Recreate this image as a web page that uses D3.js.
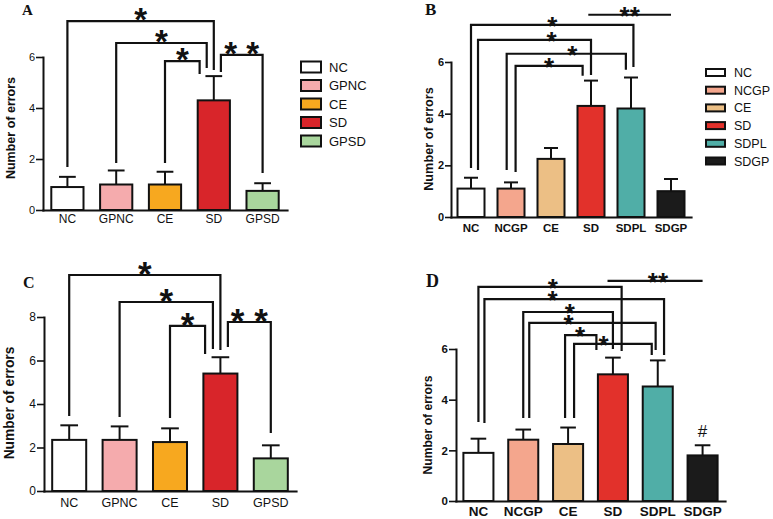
<!DOCTYPE html>
<html>
<head>
<meta charset="utf-8">
<script src="https://cdn.jsdelivr.net/npm/d3@7"></script>
<style>
  body { margin: 0; background: #fff; }
  svg { display: block; }
</style>
</head>
<body>
<svg id="chart" width="773" height="519"></svg>
<script>
// groups and colours
const groupsAC = ['NC', 'GPNC', 'CE', 'SD', 'GPSD']
const colorsAC = ['#ffffff', '#f5abad', '#f7a81f', '#d8252a', '#a9d69d']
const groupsBD = ['NC', 'NCGP', 'CE', 'SD', 'SDPL', 'SDGP']
const colorsBD = ['#ffffff', '#f4a68d', '#ecbf85', '#e2312b', '#50aea7', '#1b1b1b']

// mean and SEM
const meanA = [0.9, 1.0, 1.0, 4.3, 0.75]
const semA = [0.4, 0.55, 0.5, 0.95, 0.3]
const meanB = [1.1, 1.1, 2.25, 4.3, 4.2, 1.0]
const semB = [0.42, 0.24, 0.42, 0.98, 1.2, 0.47]
const meanC = [2.35, 2.35, 2.25, 5.4, 1.5]
const semC = [0.67, 0.62, 0.63, 0.75, 0.6]
const meanD = [1.9, 2.42, 2.25, 5.0, 4.52, 1.8]
const semD = [0.56, 0.4, 0.65, 0.66, 1.03, 0.4]

const ticksABD = [0, 2, 4, 6]
const ticksC = [0, 2, 4, 6, 8]

// significance brackets: groups, end values and bracket level in data units
const sigA = [
  { a: 'NC', aEnd: 1.69, b: 'SD', bEnd: 5.49, level: 7.41, text: '*' },
  { a: 'GPNC', aEnd: 1.84, b: 'SD', bOff: -0.22, bEnd: 5.57, level: 6.55, text: '*' },
  { a: 'CE', aEnd: 1.84, b: 'SD', bOff: -0.44, bEnd: 5.33, level: 5.84, text: '*' },
  { a: 'SD', aOff: 0.22, aEnd: 5.41, b: 'GPSD', bEnd: 1.45, level: 6.08, text: '* *' }
]
const sigB = [
  { a: 'NC', aEnd: 1.9, b: 'SDPL', bOff: 0.09, bEnd: 5.81, level: 7.44, text: '*' },
  { a: 'NC', aOff: 0.26, aEnd: 1.82, b: 'SD', bEnd: 5.5, level: 6.86, text: '*', t: 0.65 },
  { a: 'NCGP', aOff: -0.16, aEnd: 1.82, b: 'SDPL', bOff: -0.19, bEnd: 5.7, level: 6.32, text: '*', t: 0.55 },
  { a: 'NCGP', aOff: 0.17, aEnd: 1.74, b: 'SD', bOff: -0.31, bEnd: 5.47, level: 5.85, text: '*' },
  { a: 'SD', aOff: -0.1, b: 'SDGP', level: 7.83, text: '**' }
]
const sigC = [
  { a: 'NC', aEnd: 3.45, b: 'SD', bEnd: 6.48, level: 9.93, text: '*' },
  { a: 'GPNC', aEnd: 3.4, b: 'SD', bOff: -0.22, bEnd: 6.53, level: 8.69, text: '*' },
  { a: 'CE', aEnd: 3.36, b: 'SD', bOff: -0.45, bEnd: 6.3, level: 7.59, text: '*' },
  { a: 'SD', aOff: 0.22, aEnd: 6.62, b: 'GPSD', bEnd: 2.67, level: 7.77, text: '* *' }
]
const sigD = [
  { a: 'NC', aEnd: 3.12, b: 'SD', bOff: 0.29, bEnd: 5.92, level: 8.45, text: '*', t: 0.52 },
  { a: 'NC', aOff: 0.2, aEnd: 3.08, b: 'SDPL', bOff: 0.21, bEnd: 5.76, level: 7.97, text: '*', t: 0.38 },
  { a: 'NCGP', aEnd: 3.28, b: 'SD', bEnd: 6.0, level: 7.46, text: '*', t: 0.52 },
  { a: 'NCGP', aOff: 0.2, aEnd: 3.28, b: 'SDPL', bOff: -0.07, bEnd: 5.96, level: 7.03, text: '*', t: 0.31 },
  { a: 'CE', aOff: -0.1, aEnd: 3.28, b: 'SD', bOff: -0.55, bEnd: 5.96, level: 6.55, text: '*', t: 0.48 },
  { a: 'CE', aOff: 0.2, aEnd: 3.28, b: 'SDPL', bOff: -0.2, bEnd: 5.76, level: 6.2, text: '*', t: 0.38 },
  { a: 'SD', aOff: -0.18, b: 'SDGP', level: 8.69, text: '**', t: 0.53 }
]
const notesD = [{ group: 'SDGP', text: '#' }]

const FONT = '"Liberation Sans", Arial, sans-serif'
const SERIF = '"Liberation Serif", "Times New Roman", serif'
const svg = d3.select('#chart')

function drawPanel(cfg) {
  const g = svg.append('g')
  const x = d3.scaleBand()
    .domain(cfg.groups)
    .range(cfg.xRange)
    .paddingInner(cfg.pad)
    .paddingOuter(cfg.pad / 2)
  const y = d3.scaleLinear()
    .domain([0, cfg.yMax])
    .range(cfg.yRange)
  const bw = x.bandwidth()
  const cx = (d, off) => x(d) + bw / 2 + (off || 0) * bw
  const weight = cfg.bold ? 'bold' : 'normal'

  // error bars (drawn first, bar covers the lower part)
  const err = g.selectAll('g.err')
    .data(cfg.groups)
    .join('g')
  err.append('line')
    .attr('x1', d => cx(d)).attr('x2', d => cx(d))
    .attr('y1', (d, i) => y(cfg.means[i]))
    .attr('y2', (d, i) => y(cfg.means[i] + cfg.sems[i]))
    .attr('stroke', '#111').attr('stroke-width', 2)
  err.append('line')
    .attr('x1', d => cx(d) - bw * 0.26).attr('x2', d => cx(d) + bw * 0.26)
    .attr('y1', (d, i) => y(cfg.means[i] + cfg.sems[i]))
    .attr('y2', (d, i) => y(cfg.means[i] + cfg.sems[i]))
    .attr('stroke', '#111').attr('stroke-width', 2)

  g.selectAll('rect.bar')
    .data(cfg.groups)
    .join('rect')
    .attr('class', 'bar')
    .attr('x', d => x(d))
    .attr('y', (d, i) => y(cfg.means[i]))
    .attr('width', bw)
    .attr('height', (d, i) => y(0) - y(cfg.means[i]))
    .attr('fill', (d, i) => cfg.colors[i])
    .attr('stroke', '#111')
    .attr('stroke-width', 2)

  // y axis
  const yAxis = g.append('g')
    .attr('transform', `translate(${cfg.xRange[0]},0)`)
    .attr('font-family', FONT)
    .call(d3.axisLeft(y)
      .tickValues(cfg.ticks)
      .tickFormat(d3.format('d'))
      .tickSize(cfg.tickLen)
      .tickSizeOuter(0)
      .tickPadding(1))
  yAxis.select('.domain').attr('stroke', '#111').attr('stroke-width', 2).attr('stroke-linecap', 'square')
  yAxis.selectAll('.tick line').attr('stroke', '#111').attr('stroke-width', 1.6)
  yAxis.selectAll('.tick text')
    .attr('font-size', cfg.tickFs)
    .attr('font-weight', weight)
    .attr('fill', '#111')

  // x axis
  const xAxis = g.append('g')
    .attr('transform', `translate(0,${y(0)})`)
    .attr('font-family', FONT)
    .call(d3.axisBottom(x).tickSize(0).tickSizeOuter(0).tickPadding(cfg.xPad))
  xAxis.select('.domain').attr('stroke', '#111').attr('stroke-width', 2.2).attr('stroke-linecap', 'square')
  xAxis.selectAll('.tick text')
    .attr('font-size', cfg.xFs)
    .attr('font-weight', weight)
    .attr('fill', '#111')

  // y label
  g.append('text')
    .attr('transform', `translate(${cfg.yLabel.x},${cfg.yLabel.y}) rotate(-90)`)
    .attr('text-anchor', 'middle')
    .attr('font-family', FONT)
    .attr('font-weight', 'bold')
    .attr('font-size', cfg.yLabel.fs)
    .attr('fill', '#111')
    .text('Number of errors')

  // panel letter
  g.append('text')
    .attr('x', cfg.letter.x).attr('y', cfg.letter.y)
    .attr('font-family', SERIF)
    .attr('font-weight', 'bold')
    .attr('font-size', cfg.letter.fs)
    .attr('fill', '#111')
    .text(cfg.letter.text)

  // significance brackets
  cfg.sigs.forEach(s => {
    const ax = cx(s.a, s.aOff)
    const bx = cx(s.b, s.bOff)
    const ly = y(s.level)
    const ay = s.aEnd === undefined ? ly : y(s.aEnd)
    const by = s.bEnd === undefined ? ly : y(s.bEnd)
    g.append('path')
      .attr('d', `M${ax},${ay}V${ly}H${bx}V${by}`)
      .attr('fill', 'none')
      .attr('stroke', '#111')
      .attr('stroke-width', 2.2)
    const t = s.t === undefined ? 0.5 : s.t
    g.append('text')
      .attr('x', ax + (bx - ax) * t)
      .attr('y', ly - cfg.starLift + cfg.starFs * 0.58)
      .attr('text-anchor', 'middle')
      .attr('font-family', FONT)
      .attr('font-weight', 'bold')
      .attr('font-size', cfg.starFs)
      .attr('fill', '#111')
      .text(s.text)
  })

  ;(cfg.notes || []).forEach(n => {
    const i = cfg.groups.indexOf(n.group)
    g.append('text')
      .attr('x', cx(n.group))
      .attr('y', y(cfg.means[i] + cfg.sems[i]) - 8)
      .attr('text-anchor', 'middle')
      .attr('font-family', FONT)
      .attr('font-size', 17)
      .attr('fill', '#111')
      .text(n.text)
  })

  // legend
  if (cfg.legend) {
    const L = cfg.legend
    const rows = g.selectAll('g.leg')
      .data(cfg.groups)
      .join('g')
      .attr('transform', (d, i) => `translate(${L.x},${L.y + i * L.dy})`)
    rows.append('rect')
      .attr('x', 0).attr('y', -L.h / 2)
      .attr('width', L.w).attr('height', L.h)
      .attr('fill', (d, i) => cfg.colors[i])
      .attr('stroke', '#111')
      .attr('stroke-width', 2)
    rows.append('text')
      .attr('x', L.tx).attr('y', 0)
      .attr('dy', '0.36em')
      .attr('font-family', FONT)
      .attr('font-size', L.fs)
      .attr('fill', '#111')
      .text(d => d)
  }
}

drawPanel({
  groups: groupsAC, colors: colorsAC, means: meanA, sems: semA, ticks: ticksABD, sigs: sigA,
  xRange: [43, 287], yRange: [210, 57], yMax: 6, pad: 0.34,
  tickLen: 7, tickFs: 11, xFs: 12, xPad: 4.5, bold: false,
  yLabel: { x: 14.5, y: 128, fs: 12.5 },
  letter: { x: 22, y: 15, fs: 15, text: 'A' },
  starFs: 33, starLift: 9,
  legend: { x: 301, y: 67, dy: 18.5, w: 20, h: 11, fs: 13, tx: 28 }
})

drawPanel({
  groups: groupsBD, colors: colorsBD, means: meanB, sems: semB, ticks: ticksABD, sigs: sigB,
  xRange: [451, 691], yRange: [217, 62], yMax: 6, pad: 0.325,
  tickLen: 6, tickFs: 11, xFs: 11.5, xPad: 6.8, bold: true,
  yLabel: { x: 432.5, y: 139, fs: 12.7 },
  letter: { x: 425, y: 15, fs: 17, text: 'B' },
  starFs: 26, starLift: 5,
  legend: { x: 706, y: 72.5, dy: 17.7, w: 19, h: 7, fs: 12.5, tx: 28 }
})

drawPanel({
  groups: groupsAC, colors: colorsAC, means: meanC, sems: semC, ticks: ticksC, sigs: sigC,
  xRange: [44, 296], yRange: [491, 317], yMax: 8, pad: 0.325,
  tickLen: 7, tickFs: 12, xFs: 12.5, xPad: 7, bold: false,
  yLabel: { x: 14, y: 403, fs: 13.8 },
  letter: { x: 23, y: 288, fs: 16, text: 'C' },
  starFs: 35, starLift: 9
})

drawPanel({
  groups: groupsBD, colors: colorsBD, means: meanD, sems: semD, ticks: ticksABD, sigs: sigD,
  xRange: [456, 725], yRange: [501, 349], yMax: 6, pad: 0.33,
  tickLen: 7, tickFs: 11.5, xFs: 13.5, xPad: 5.4, bold: true,
  yLabel: { x: 432, y: 425, fs: 12.1 },
  letter: { x: 426, y: 287, fs: 18, text: 'D' },
  starFs: 26, starLift: 5,
  notes: notesD
})
</script>
</body>
</html>
